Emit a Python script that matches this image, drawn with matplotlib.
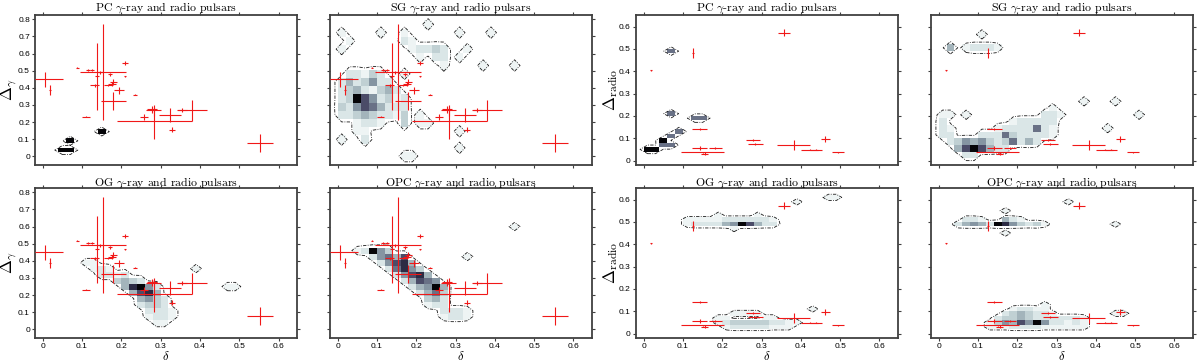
import numpy as np
import matplotlib
matplotlib.use("Agg")
import matplotlib.pyplot as plt
from matplotlib.colors import ListedColormap, BoundaryNorm

plt.rcParams["mathtext.fontset"] = "cm"
plt.rcParams["font.family"] = ["Liberation Sans", "DejaVu Sans"]

MODELS = ["PC", "SG", "OG", "OPC"]

# observed pulsars, left block: delta vs Delta_gamma (asymmetric errors)
G_DELTA = [0.006, 0.019, 0.088, 0.110, 0.115, 0.125, 0.153, 0.138, 0.146, 0.132,
           0.171, 0.176, 0.167, 0.180, 0.180, 0.210, 0.210, 0.195, 0.235, 0.258,
           0.278, 0.282, 0.283, 0.324, 0.329, 0.354, 0.380, 0.553]
G_DGAM = [0.449, 0.389, 0.516, 0.232, 0.506, 0.502, 0.490, 0.470, 0.490, 0.414,
          0.479, 0.424, 0.414, 0.434, 0.323, 0.545, 0.467, 0.385, 0.360, 0.230,
          0.274, 0.268, 0.204, 0.240, 0.156, 0.272, 0.268, 0.078]
G_XLO = [0.026, 0.003, 0.003, 0.009, 0.006, 0.005, 0.058, 0.005, 0.008, 0.012,
         0.005, 0.010, 0.010, 0.010, 0.033, 0.008, 0.003, 0.013, 0.006, 0.011,
         0.012, 0.018, 0.095, 0.027, 0.008, 0.012, 0.035, 0.033]
G_XHI = [0.045, 0.003, 0.003, 0.009, 0.006, 0.005, 0.060, 0.005, 0.008, 0.012,
         0.005, 0.010, 0.010, 0.010, 0.033, 0.008, 0.003, 0.013, 0.006, 0.011,
         0.012, 0.018, 0.096, 0.027, 0.008, 0.012, 0.037, 0.033]
G_YLO = [0.042, 0.030, 0.003, 0.003, 0.005, 0.006, 0.280, 0.200, 0.010, 0.010,
         0.010, 0.012, 0.005, 0.015, 0.050, 0.010, 0.005, 0.020, 0.004, 0.020,
         0.020, 0.030, 0.100, 0.040, 0.015, 0.010, 0.060, 0.053]
G_YHI = [0.042, 0.030, 0.003, 0.003, 0.005, 0.006, 0.280, 0.190, 0.010, 0.010,
         0.010, 0.012, 0.005, 0.015, 0.050, 0.010, 0.005, 0.020, 0.004, 0.020,
         0.020, 0.030, 0.085, 0.040, 0.015, 0.010, 0.060, 0.053]

# observed pulsars, right block: delta vs Delta_radio
R_DELTA = [0.019, 0.125, 0.357, 0.142, 0.142, 0.150, 0.155, 0.182, 0.278, 0.284,
           0.382, 0.422, 0.439, 0.462, 0.494]
R_DRAD = [0.404, 0.481, 0.573, 0.140, 0.055, 0.036, 0.030, 0.055, 0.091, 0.073,
          0.070, 0.049, 0.049, 0.097, 0.037]
R_XERR = [0.002, 0.003, 0.015, 0.019, 0.020, 0.055, 0.008, 0.016, 0.017, 0.019,
          0.042, 0.021, 0.015, 0.011, 0.015]
R_YERR = [0.003, 0.022, 0.016, 0.004, 0.010, 0.003, 0.006, 0.004, 0.004, 0.004,
          0.022, 0.004, 0.003, 0.013, 0.003]

# simulated 2-D histograms: {row: string}, one char per 0.02 delta bin,
# '.' empty, 1 (faint) .. 9 (black); rows start at y0 with height dy
GAMMA_BINS = {"PC": (-0.0035, 0.027), "SG": (-0.022, 0.048),
              "OG": (-0.0125, 0.035), "OPC": (-0.0125, 0.035)}
RADIO_BINS = {"PC": (0.04, 0.02), "SG": (0.01, 0.03),
              "OG": (0.0, 0.02), "OPC": (0.0, 0.02)}

PC_GAMMA = {5: ".......9", 3: "...9", 1: "..99"}
SG_GAMMA = {
    16: "...........1",
    15: "1....1..1......1...1",
    14: ".1......21",
    13: "1........12232..1",
    12: "..........1.22.1",
    11: ".............1....1...1",
    10: ".22132..1",
    9: "2423522",
    8: "23421342",
    7: "239752312",
    6: "325764222",
    5: "223432213.1",
    4: "..1221..3.11",
    3: "..11...........1",
    2: "1..2",
    1: "...............1",
    0: "........11",
}
OG_GAMMA = {
    11: ".....11",
    10: "......121..........1",
    9: ".......2212",
    8: ".........3432",
    7: "..........48952........11",
    6: "...........4784",
    5: "............4532",
    4: "............2332",
    3: ".............2221",
    2: ".............1221",
    1: "..............11",
}
OPC_GAMMA = {
    17: "......................1",
    13: "..12953",
    12: "....25647.......1",
    11: ".....25784",
    10: "......26853",
    9: ".......25784",
    8: "........24765",
    7: ".........24594",
    6: "..........2463",
    5: "...........342",
    4: "...........122",
    3: ".............2221",
    2: ".............1221",
}
PC_RADIO = {22: "...6", 8: "...6", 7: "......66", 4: "....6", 3: "...6",
            2: "..9", 1: "..66", 0: "99"}
SG_RADIO = {
    18: ".....1",
    16: ".4.12221",
    8: "..................1...1",
    7: "..............1",
    6: "11.1.........221.........1",
    5: "2........122222",
    4: "21.....12222621......1",
    3: "22...2226322221",
    2: ".235453236242",
    1: "..4797422",
    0: "...22",
}
OG_RADIO = {
    30: ".......................11",
    29: "...................1",
    26: ".........1....1",
    25: ".....111112222221",
    24: ".....122224597422",
    23: "...........1",
    5: ".....................1",
    4: "...........1111",
    3: ".........11....11",
    2: ".........12333332211",
    1: "..........122222111",
}
OPC_RADIO = {
    29: "................1",
    27: "........1",
    25: "...221..421",
    24: "..245429853231........1",
    22: "........1",
    6: ".............1",
    5: ".........12211",
    4: "........2343221.......11",
    3: ".......233432222221",
    2: "......1354759522121",
    1: "......1112222111111",
}

GAMMA_MAPS = {"PC": PC_GAMMA, "SG": SG_GAMMA, "OG": OG_GAMMA, "OPC": OPC_GAMMA}
RADIO_MAPS = {"PC": PC_RADIO, "SG": SG_RADIO, "OG": OG_RADIO, "OPC": OPC_RADIO}

LEVEL_COLORS = ["#eef4f4", "#dae6e7", "#c0d0d3", "#a3b4bb", "#8595a2",
                "#697186", "#4b4c68", "#2c2b44", "#050508"]
cmap = ListedColormap(LEVEL_COLORS)
norm = BoundaryNorm(np.arange(0.5, 10, 1.0), cmap.N)

DX = 0.02
NCOL = 34


def grid_from_map(cells, y0, dy):
    nrow = max(cells) + 1
    z = np.zeros((nrow + 2, NCOL + 2))
    for r, s in cells.items():
        for c, ch in enumerate(s):
            if ch != ".":
                z[r + 1, c + 1] = int(ch)
    xe = DX * (np.arange(NCOL + 3) - 1)
    ye = y0 + dy * (np.arange(nrow + 3) - 1)
    return xe, ye, z


def fmt_tick(v):
    return "0" if abs(v) < 1e-9 else "%.1f" % v


def style_axes(ax, yticks, show_left, show_bottom):
    xt = np.arange(0, 0.61, 0.1)
    ax.set_xticks(xt)
    ax.set_xticklabels([fmt_tick(v) for v in xt])
    ax.set_yticks(yticks)
    ax.set_yticklabels([fmt_tick(v) for v in yticks])
    ax.tick_params(direction="out", length=2.5, width=0.8, color="#404040",
                   labelsize=6, pad=1.2, top=True, right=True,
                   labelleft=show_left, labelbottom=show_bottom)
    for sp in ax.spines.values():
        sp.set_color("#404040")
        sp.set_linewidth(1.3)


fig = plt.figure(figsize=(12, 3.63), dpi=100)

col_left = [0.0292, 0.275, 0.530, 0.7758]
col_width = 0.2185
row_bottom = [0.5455, 0.0689]
row_height = 0.4132

for block in range(2):
    for k, m in enumerate(MODELS):
        row, col = divmod(k, 2)
        ax = fig.add_axes([col_left[2 * block + col], row_bottom[row],
                           col_width, row_height])
        if block == 0:
            y0, dy = GAMMA_BINS[m]
            cells = GAMMA_MAPS[m]
        else:
            y0, dy = RADIO_BINS[m]
            cells = RADIO_MAPS[m]

        xe, ye, z = grid_from_map(cells, y0, dy)
        ax.pcolormesh(xe, ye, np.ma.masked_equal(z, 0), cmap=cmap, norm=norm,
                      zorder=1)
        xc = 0.5 * (xe[:-1] + xe[1:])
        yc = 0.5 * (ye[:-1] + ye[1:])
        ax.contour(xc, yc, z, levels=[0.3], colors="#1a1a1a", linewidths=0.6,
                   linestyles=[(0, (4, 1.6, 1, 1.6))], zorder=2)

        if block == 0:
            ax.errorbar(G_DELTA, G_DGAM, xerr=[G_XLO, G_XHI], yerr=[G_YLO, G_YHI],
                        fmt="none", ecolor="#f01818", elinewidth=0.8, capsize=0,
                        zorder=3)
            ax.set_ylim(-0.05, 0.825)
            style_axes(ax, np.arange(0, 0.81, 0.1), col == 0, row == 1)
            if col == 0:
                ax.set_ylabel(r"$\Delta_\gamma$", fontsize=12)
        else:
            ax.errorbar(R_DELTA, R_DRAD, xerr=R_XERR, yerr=R_YERR,
                        fmt="none", ecolor="#f01818", elinewidth=0.8, capsize=0,
                        zorder=3)
            ax.set_ylim(-0.02, 0.652)
            style_axes(ax, np.arange(0, 0.61, 0.1), col == 0, row == 1)
            if col == 0:
                ax.set_ylabel(r"$\Delta_{\rm radio}$", fontsize=12)
        if col == 0:
            ax.yaxis.set_label_coords(-0.062, 0.5)

        ax.set_xlim(-0.0196, 0.6476)
        if row == 1:
            ax.set_xlabel(r"$\delta$", fontsize=9)
            ax.xaxis.set_label_coords(0.5, -0.08)
        ax.set_title(m + r" $\gamma$-ray and radio pulsars", fontsize=8.5,
                     family="cmr10", pad=2)

fig.savefig("out.png", dpi=100)
